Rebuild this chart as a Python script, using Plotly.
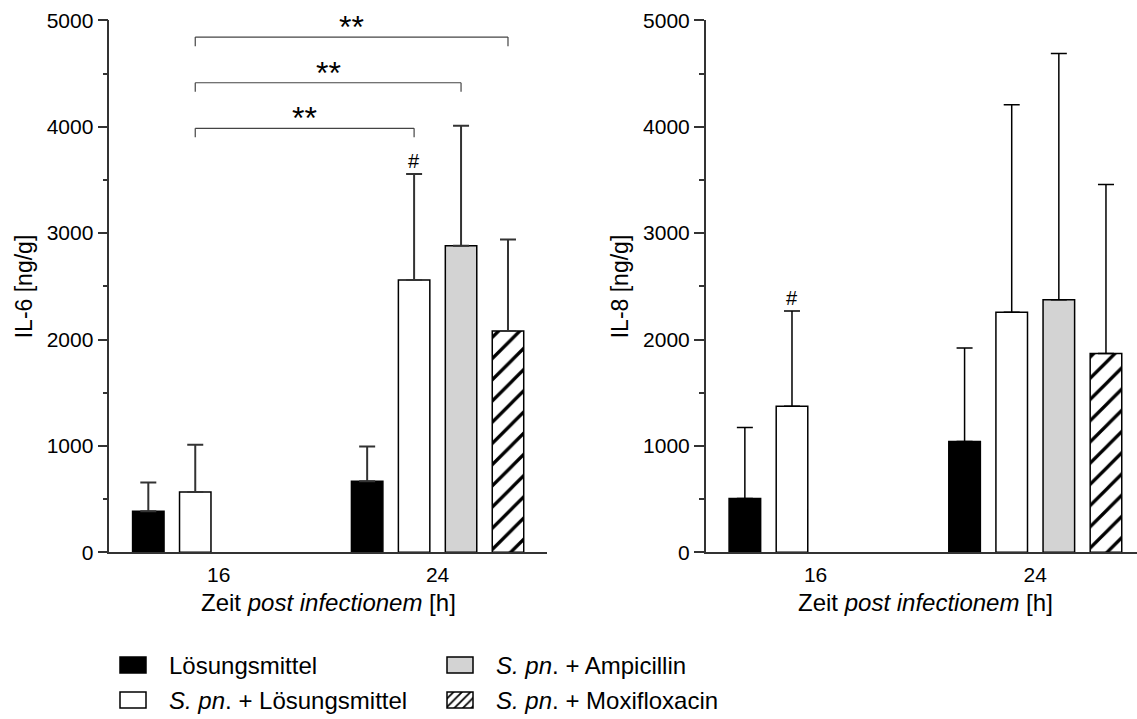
import plotly.graph_objects as go

W, H = 1137, 719

# ---- data -------------------------------------------------------------
times = ["16", "24"]
series = ["Lösungsmittel", "S. pn. + Lösungsmittel",
          "S. pn. + Ampicillin", "S. pn. + Moxifloxacin"]
legend_text = ["Lösungsmittel", "<i>S. pn</i>. + Lösungsmittel",
               "<i>S. pn</i>. + Ampicillin", "<i>S. pn</i>. + Moxifloxacin"]

# IL-6 [ng/g], mean and SD per time point
il6_loesungsmittel = [385, 667]
il6_loesungsmittel_sd = [270, 328]
il6_spn_loesungsmittel = [567, 2560]
il6_spn_loesungsmittel_sd = [443, 995]
il6_spn_ampicillin = [None, 2880]
il6_spn_ampicillin_sd = [None, 1130]
il6_spn_moxifloxacin = [None, 2080]
il6_spn_moxifloxacin_sd = [None, 860]

# IL-8 [ng/g], mean and SD per time point
il8_loesungsmittel = [506, 1042]
il8_loesungsmittel_sd = [668, 879]
il8_spn_loesungsmittel = [1372, 2257]
il8_spn_loesungsmittel_sd = [897, 1949]
il8_spn_ampicillin = [None, 2373]
il8_spn_ampicillin_sd = [None, 2316]
il8_spn_moxifloxacin = [None, 1868]
il8_spn_moxifloxacin_sd = [None, 1588]

# significance brackets on IL-6: (time idx, series idx) -> (time idx, series idx)
brackets = [((0, 1), (1, 1), 3985, "**"),
            ((0, 1), (1, 2), 4413, "**"),
            ((0, 1), (1, 3), 4842, "**")]
# '#' marks: (panel, time idx, series idx)
hash_marks = [("il6", 1, 1), ("il8", 0, 1)]

y_ticks = [0, 1000, 2000, 3000, 4000, 5000]

# ---- styling ----------------------------------------------------------
FONT = "Liberation Sans, Arial, sans-serif"
fills = ["black", "white", "#d3d3d3", "white"]
BARGAP = 0.142
GROUPGAP = 0.33


def fx(px):
    return px / W


def fy(py):
    return 1 - py / H


def marker_for(j, hatch_size=15, hatch_solidity=0.22):
    m = dict(color=fills[j], line=dict(color="black", width=1.5))
    if j == 3:
        m["pattern"] = dict(shape="/", fgcolor="black", bgcolor="white",
                            size=hatch_size, solidity=hatch_solidity, fillmode="replace")
    return m


x_pos = list(range(len(times)))
panels = {
    "il6": dict(xa="x", ya="y",
                means=[il6_loesungsmittel, il6_spn_loesungsmittel,
                       il6_spn_ampicillin, il6_spn_moxifloxacin],
                sds=[il6_loesungsmittel_sd, il6_spn_loesungsmittel_sd,
                     il6_spn_ampicillin_sd, il6_spn_moxifloxacin_sd],
                err_color="#333333", err_w=2.0),
    "il8": dict(xa="x2", ya="y2",
                means=[il8_loesungsmittel, il8_spn_loesungsmittel,
                       il8_spn_ampicillin, il8_spn_moxifloxacin],
                sds=[il8_loesungsmittel_sd, il8_spn_loesungsmittel_sd,
                     il8_spn_ampicillin_sd, il8_spn_moxifloxacin_sd],
                err_color="black", err_w=1.5),
}

fig = go.Figure()
for key, p in panels.items():
    for j, name in enumerate(series):
        fig.add_trace(go.Bar(
            x=x_pos, y=p["means"][j], name=name, showlegend=False,
            xaxis=p["xa"], yaxis=p["ya"], marker=marker_for(j),
            error_y=dict(type="data", symmetric=False,
                         array=p["sds"][j], arrayminus=[0] * len(times),
                         color=p["err_color"], thickness=p["err_w"], width=8),
            cliponaxis=False,
        ))

# centre of a series' bar inside its time group
n = len(series)
slot = (1 - BARGAP) / n


def bar_center(t, j):
    return x_pos[t] + (j - (n - 1) / 2) * slot


shapes = []
annotations = []
drop = 85
for (a, b, yb, label) in brackets:
    xa0 = bar_center(*a)
    xb0 = bar_center(*b)
    line = dict(color="#444444", width=1.2)
    shapes.append(dict(type="line", xref="x", yref="y", x0=xa0, x1=xb0, y0=yb, y1=yb, line=line))
    shapes.append(dict(type="line", xref="x", yref="y", x0=xa0, x1=xa0, y0=yb, y1=yb - drop, line=line))
    shapes.append(dict(type="line", xref="x", yref="y", x0=xb0, x1=xb0, y0=yb, y1=yb - drop, line=line))
    annotations.append(dict(xref="x", yref="y", x=(xa0 + xb0) / 2, y=yb, text=label,
                            showarrow=False, yanchor="bottom", yshift=-10,
                            font=dict(family=FONT, size=32, color="black")))

for key, t, j in hash_marks:
    p = panels[key]
    top = p["means"][j][t] + p["sds"][j][t]
    annotations.append(dict(xref=p["xa"], yref=p["ya"], x=bar_center(t, j), y=top,
                            text="#", showarrow=False, yanchor="bottom", yshift=0,
                            font=dict(family=FONT, size=20, color="black")))

# axis titles
x_title = "Zeit <i>post infectionem</i> [h]"
for xa in ["x", "x2"]:
    annotations.append(dict(xref=xa, yref="paper", x=0.5, y=fy(602), text=x_title,
                            showarrow=False, xanchor="center", yanchor="middle",
                            font=dict(family=FONT, size=24, color="black")))
plot_mid = fy((20.3 + 552.3) / 2)
for xp, txt in [(24, "IL-6 [ng/g]"), (620, "IL-8 [ng/g]")]:
    annotations.append(dict(xref="paper", yref="paper", x=fx(xp), y=plot_mid, text=txt,
                            textangle=-90, showarrow=False, xanchor="center", yanchor="middle",
                            font=dict(family=FONT, size=23, color="black")))

# legend: swatches drawn as bars on a full-page pixel axis, labels as text
legend_slots = [(0, 0), (1, 0), (0, 1), (1, 1)]  # (row, col) for each series
col_swatch_x = [133, 460]
col_text_x = [167, 494]
row_y = [665, 700]
sw_w, sw_h = 26, 16
for j, (r, c) in enumerate(legend_slots):
    fig.add_trace(go.Bar(
        x=[col_swatch_x[c]], y=[sw_h], base=[row_y[r] - sw_h / 2],
        width=[sw_w], offset=[-sw_w / 2], xaxis="x3", yaxis="y3",
        marker=marker_for(j, hatch_size=6, hatch_solidity=0.3),
        showlegend=False, hoverinfo="skip",
    ))
    annotations.append(dict(xref="paper", yref="paper", x=fx(col_text_x[c]), y=fy(row_y[r]),
                            text=legend_text[j], showarrow=False, xanchor="left",
                            yanchor="middle", font=dict(family=FONT, size=24, color="black")))

axis_line = dict(showline=True, linecolor="#333333", linewidth=1.5,
                 showgrid=False, zeroline=False, automargin=False)
yaxis_common = dict(range=[0, 5000], tickvals=y_ticks, ticks="outside", ticklen=10,
                    tickwidth=1.5, tickcolor="#333333",
                    minor=dict(dtick=500, ticks="outside", ticklen=5, tickwidth=1.5,
                               tickcolor="#333333", showgrid=False),
                    tickfont=dict(family=FONT, size=21, color="black"),
                    domain=[fy(552.3), fy(20.3)], **axis_line)
xaxis_common = dict(tickvals=x_pos, ticktext=times, ticks="",
                    tickfont=dict(family=FONT, size=21, color="black"),
                    ticklabelstandoff=3, **axis_line)

fig.update_layout(
    width=W, height=H, margin=dict(l=0, r=0, t=0, b=0, autoexpand=False),
    paper_bgcolor="white", plot_bgcolor="rgba(0,0,0,0)",
    barmode="group", bargap=BARGAP, bargroupgap=GROUPGAP,
    showlegend=False,
    xaxis=dict(domain=[fx(109.3), fx(547)], range=[-0.5, 1.5], anchor="y", **xaxis_common),
    yaxis=dict(anchor="x", **yaxis_common),
    xaxis2=dict(domain=[fx(705.7), 1], range=[-0.5, 1.463], anchor="y2", **xaxis_common),
    yaxis2=dict(anchor="x2", **yaxis_common),
    xaxis3=dict(domain=[0, 1], range=[0, W], visible=False, anchor="y3",
                fixedrange=True, automargin=False),
    yaxis3=dict(domain=[0, 1], range=[H, 0], visible=False, anchor="x3",
                fixedrange=True, automargin=False),
    shapes=shapes, annotations=annotations,
    font=dict(family=FONT, color="black"),
)

fig.write_html("out.html")
